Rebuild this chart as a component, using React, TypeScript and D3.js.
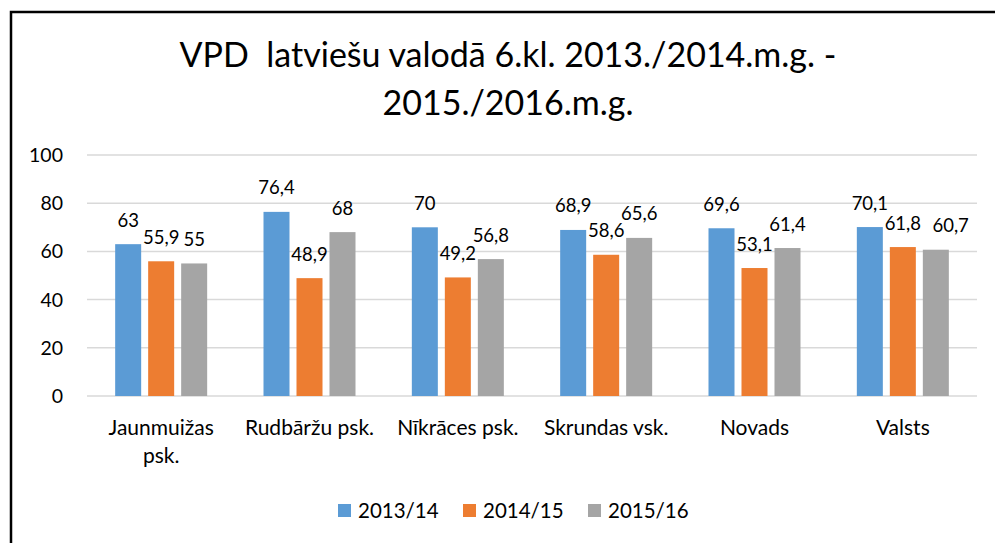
import React from 'react'
import * as d3 from 'd3'

const categories = ['Jaunmuižas psk.', 'Rudbāržu psk.', 'Nīkrāces psk.', 'Skrundas vsk.', 'Novads', 'Valsts']
const seriesNames = ['2013/14', '2014/15', '2015/16']
const values2013 = [63, 76.4, 70, 68.9, 69.6, 70.1]
const values2014 = [55.9, 48.9, 49.2, 58.6, 53.1, 61.8]
const values2015 = [55, 68, 56.8, 65.6, 61.4, 60.7]
const yTicks = [0, 20, 40, 60, 80, 100]
const colors = ['#5B9BD5', '#ED7D31', '#A5A5A5']

const W = 995
const H = 543
const FONT = 'Lato, "Open Sans", sans-serif'
const LABEL_SIZE = 18.5

const App = () => {
    const series = [values2013, values2014, values2015]

    const x = d3.scaleBand().domain(categories).range([87, 977]).padding(0)
    const groupW = 92
    const xInner = d3.scaleBand().domain(seriesNames).range([0, groupW]).paddingInner(0.212).paddingOuter(0)
    const y = d3.scaleLinear().domain([0, 100]).range([396, 155])

    const fmt = (v: number) => String(v).replace('.', ',')
    // rough text width for the label font
    const textW = (s: string) => s.split('').reduce((a, ch) => a + (ch === ',' ? 0.25 : 0.58), 0) * LABEL_SIZE

    // wrap long category names onto two lines
    const wrap = (s: string) => {
        if (s.length <= 14) return [s]
        const i = s.lastIndexOf(' ')
        return [s.slice(0, i), s.slice(i + 1)]
    }

    // data labels, nudged right when they collide with the previous one in the group
    const labels: { x: number, y: number, text: string }[] = []
    categories.forEach((c, ci) => {
        let prev: { right: number, y: number } | null = null
        series.forEach((vals, si) => {
            const v = vals[ci]
            const cx = (x(c) ?? 0) + (x.bandwidth() - groupW) / 2 + (xInner(seriesNames[si]) ?? 0) + xInner.bandwidth() / 2
            const ly = y(v) - 17.5
            const t = fmt(v)
            const w = textW(t)
            let lx = cx
            if (prev && Math.abs(prev.y - ly) < 14 && lx - w / 2 < prev.right) {
                lx = prev.right + 11 + w / 2
            }
            labels.push({ x: lx, y: ly, text: t })
            prev = { right: lx + w / 2, y: ly }
        })
    })

    return (
        <svg width={W} height={H} style={{ position: 'absolute', left: 0, top: 0, background: '#fff' }} fontFamily={FONT}>
            <rect x={0} y={0} width={W} height={H} fill='#fff' />
            <path d={`M11,${H} V12 H${W}`} fill='none' stroke='#000' strokeWidth={2.5} />

            <text textAnchor='middle' fontSize={34} fill='#000' style={{ whiteSpace: 'pre' }}>
                <tspan x={508} y={67}>VPD  latviešu valodā 6.kl. 2013./2014.m.g. -</tspan>
                <tspan x={508} y={115}>2015./2016.m.g.</tspan>
            </text>

            {/* grid + y labels */}
            {yTicks.map(t => (
                <g key={t}>
                    <line x1={87} x2={977} y1={y(t)} y2={y(t)} stroke='#D9D9D9' strokeWidth={1.5} />
                    <text x={63} y={y(t) + 7} textAnchor='end' fontSize={19.5} fill='#000'>{t}</text>
                </g>
            ))}

            {/* bars */}
            {series.map((vals, si) => (
                <g key={si}>
                    {vals.map((v, ci) => {
                        const bx = (x(categories[ci]) ?? 0) + (x.bandwidth() - groupW) / 2 + (xInner(seriesNames[si]) ?? 0)
                        return <rect key={ci} x={bx} y={y(v)} width={xInner.bandwidth()} height={y(0) - y(v)} fill={colors[si]} />
                    })}
                </g>
            ))}

            {labels.map((l, i) => (
                <text key={i} x={l.x} y={l.y} textAnchor='middle' fontSize={LABEL_SIZE} fill='#000'>{l.text}</text>
            ))}

            {/* category labels */}
            {categories.map(c => (
                <text key={c} textAnchor='middle' fontSize={21} fill='#000'>
                    {wrap(c).map((line, i) => (
                        <tspan key={i} x={(x(c) ?? 0) + x.bandwidth() / 2} y={435 + i * 28}>{line}</tspan>
                    ))}
                </text>
            ))}

            {/* legend */}
            {seriesNames.map((s, i) => (
                <g key={s} transform={`translate(${338 + i * 125},504)`}>
                    <rect x={0} y={0} width={13} height={13} fill={colors[i]} />
                    <text x={20} y={14} fontSize={20.5} fill='#000'>{s}</text>
                </g>
            ))}
        </svg>
    )
}

export default App
